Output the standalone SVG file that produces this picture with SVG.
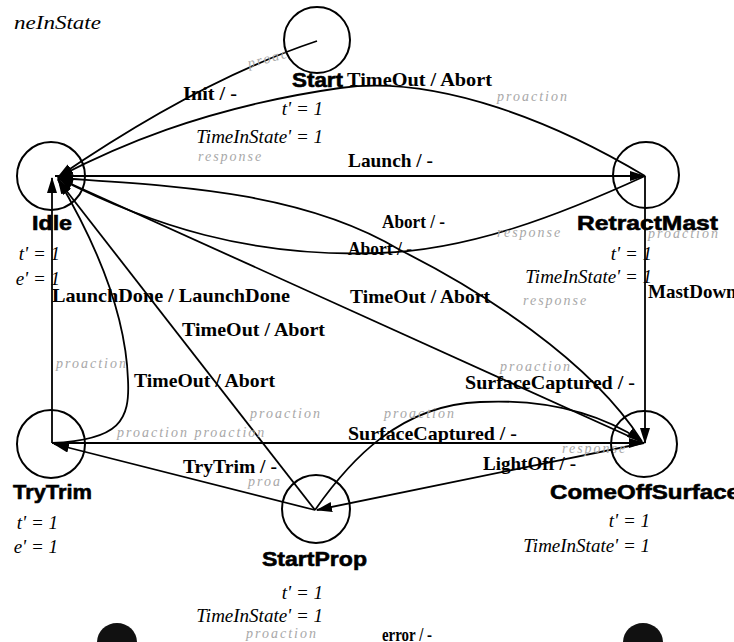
<svg xmlns="http://www.w3.org/2000/svg" width="734" height="642" viewBox="0 0 734 642">
  <defs>
    <style>
      .ev { font: bold 19px "Liberation Serif", "Times New Roman", serif; fill: #000; }
      .nm { font: bold 21px "Liberation Sans", Arial, sans-serif; fill: #000; stroke: #000; stroke-width: 0.6; }
      .eq { font: italic 19px "Liberation Serif", "Times New Roman", serif; fill: #000; }
      .gy { font: italic 14px "Liberation Serif", "Times New Roman", serif; fill: #a8a8a8; letter-spacing: 2px; }
      .ln { fill: none; stroke: #000; stroke-width: 1.8; }
      .st { fill: none; stroke: #000; stroke-width: 2; }
    </style>
    <marker id="ah" markerWidth="16" markerHeight="10" refX="15" refY="5" orient="auto" markerUnits="userSpaceOnUse">
      <path d="M0,0 L16,5 L0,10 Z" fill="#000"/>
    </marker>
  </defs>

  <rect width="734" height="642" fill="#fff"/>

  <text class="eq" x="14" y="29" textLength="87" lengthAdjust="spacingAndGlyphs">neInState</text>

  <!-- transitions -->
  <g id="connectors">
    <path id="e-init" class="ln" d="M317,41 Q200,80 58,177" marker-end="url(#ah)"/>
    <path id="e-retract-timeout" class="ln" d="M645,176 C560,125 440,74 340,88 C200,108 110,150 58,177" marker-end="url(#ah)"/>
    <path id="e-launch" class="ln" d="M55,176 L645,176" marker-end="url(#ah)"/>
    <path id="e-retract-abort" class="ln" d="M645,176 C560,215 470,250 380,253 C250,258 150,225 58,178" marker-end="url(#ah)"/>
    <path id="e-come-abort" class="ln" d="M641,440 C590,360 480,290 400,250 C300,190 170,186 58,178" marker-end="url(#ah)"/>
    <path id="e-come-timeout" class="ln" d="M644,443 L58,178" marker-end="url(#ah)"/>
    <path id="e-mastdown" class="ln" d="M645,176 L645,443" marker-end="url(#ah)"/>
    <path id="e-launchdone" class="ln" d="M52,443 L52,178" marker-end="url(#ah)"/>
    <path id="e-trytrim-timeout" class="ln" d="M52,443 C120,440 130,420 128,380 C126,320 100,250 58,179" marker-end="url(#ah)"/>
    <path id="e-startprop-timeout" class="ln" d="M315,510 L58,180" marker-end="url(#ah)"/>
    <path id="e-trytrim" class="ln" d="M315,510 L54,444" marker-end="url(#ah)"/>
    <path id="e-surf-trytrim" class="ln" d="M52,443 L644,443" marker-end="url(#ah)"/>
    <path id="e-surf-startprop" class="ln" d="M315,510 C350,460 400,405 480,402 C560,398 610,420 642,441" marker-end="url(#ah)"/>
    <path id="e-lightoff" class="ln" d="M644,443 L317,510" marker-end="url(#ah)"/>
  </g>

  <!-- transition labels -->
  <g id="labels">
    <text class="ev" x="183" y="100" textLength="54" lengthAdjust="spacingAndGlyphs">Init / -</text>
    <text class="ev" x="347" y="86" textLength="145" lengthAdjust="spacingAndGlyphs">TimeOut / Abort</text>
    <text class="ev" x="348" y="167" textLength="85" lengthAdjust="spacingAndGlyphs">Launch / -</text>
    <text class="ev" x="382" y="228" textLength="63" lengthAdjust="spacingAndGlyphs">Abort / -</text>
    <text class="ev" x="348" y="255" textLength="64" lengthAdjust="spacingAndGlyphs">Abort / -</text>
    <text class="ev" x="52" y="302" textLength="238" lengthAdjust="spacingAndGlyphs">LaunchDone / LaunchDone</text>
    <text class="ev" x="350" y="303" textLength="140" lengthAdjust="spacingAndGlyphs">TimeOut / Abort</text>
    <text class="ev" x="648" y="298">MastDown</text>
    <text class="ev" x="182" y="336" textLength="143" lengthAdjust="spacingAndGlyphs">TimeOut / Abort</text>
    <text class="ev" x="134" y="387" textLength="141" lengthAdjust="spacingAndGlyphs">TimeOut / Abort</text>
    <text class="ev" x="465" y="389" textLength="170" lengthAdjust="spacingAndGlyphs">SurfaceCaptured / -</text>
    <text class="ev" x="348" y="440" textLength="169" lengthAdjust="spacingAndGlyphs">SurfaceCaptured / -</text>
    <text class="ev" x="183" y="473" textLength="94" lengthAdjust="spacingAndGlyphs">TryTrim / -</text>
    <text class="ev" x="483" y="470" textLength="93" lengthAdjust="spacingAndGlyphs">LightOff / -</text>
    <text class="ev" x="382" y="641" textLength="50" lengthAdjust="spacingAndGlyphs">error / -</text>

    <text class="gy" x="249" y="68" transform="rotate(-15 249 68)">proac</text>
    <text class="gy" x="497" y="101">proaction</text>
    <text class="gy" x="198" y="161">response</text>
    <text class="gy" x="497" y="237">response</text>
    <text class="gy" x="648" y="238">proaction</text>
    <text class="gy" x="523" y="305">response</text>
    <text class="gy" x="500" y="371">proaction</text>
    <text class="gy" x="56" y="368">proaction</text>
    <text class="gy" x="117" y="437">proaction proaction</text>
    <text class="gy" x="250" y="418">proaction</text>
    <text class="gy" x="384" y="418">proaction</text>
    <text class="gy" x="248" y="486">proa</text>
    <text class="gy" x="562" y="453">response</text>
    <text class="gy" x="246" y="638">proaction</text>
  </g>

  <!-- states -->
  <g id="start">
    <circle class="st" cx="317" cy="40" r="33"/>
    <text class="nm" x="292" y="87" textLength="51" lengthAdjust="spacingAndGlyphs">Start</text>
    <text class="eq" x="323" y="115" text-anchor="end">t' = 1</text>
    <text class="eq" x="323" y="143" text-anchor="end">TimeInState' = 1</text>
  </g>

  <g id="idle">
    <circle class="st" cx="51" cy="176" r="34"/>
    <text class="nm" x="32" y="230" textLength="40" lengthAdjust="spacingAndGlyphs">Idle</text>
    <text class="eq" x="60" y="260" text-anchor="end">t' = 1</text>
    <text class="eq" x="60" y="285" text-anchor="end">e' = 1</text>
  </g>

  <g id="retractmast">
    <circle class="st" cx="646" cy="175" r="33"/>
    <text class="nm" x="577" y="230" textLength="141" lengthAdjust="spacingAndGlyphs">RetractMast</text>
    <text class="eq" x="652" y="260" text-anchor="end">t' = 1</text>
    <text class="eq" x="652" y="283" text-anchor="end">TimeInState' = 1</text>
  </g>

  <g id="trytrim">
    <circle class="st" cx="51" cy="444" r="34"/>
    <text class="nm" x="13" y="499" textLength="79" lengthAdjust="spacingAndGlyphs">TryTrim</text>
    <text class="eq" x="58" y="529" text-anchor="end">t' = 1</text>
    <text class="eq" x="58" y="553" text-anchor="end">e' = 1</text>
  </g>

  <g id="comeoffsurface">
    <circle class="st" cx="644" cy="444" r="33"/>
    <text class="nm" x="550" y="499" textLength="190" lengthAdjust="spacingAndGlyphs">ComeOffSurface</text>
    <text class="eq" x="650" y="527" text-anchor="end">t' = 1</text>
    <text class="eq" x="650" y="552" text-anchor="end">TimeInState' = 1</text>
  </g>

  <g id="startprop">
    <circle class="st" cx="316" cy="509" r="34"/>
    <text class="nm" x="262" y="566" textLength="105" lengthAdjust="spacingAndGlyphs">StartProp</text>
    <text class="eq" x="323" y="599" text-anchor="end">t' = 1</text>
    <text class="eq" x="323" y="622" text-anchor="end">TimeInState' = 1</text>
  </g>

  <g id="error-left">
    <ellipse cx="117" cy="642" rx="20" ry="19" fill="#111"/>
  </g>
  <g id="error-right">
    <ellipse cx="643" cy="642" rx="20" ry="19" fill="#111"/>
  </g>
</svg>
